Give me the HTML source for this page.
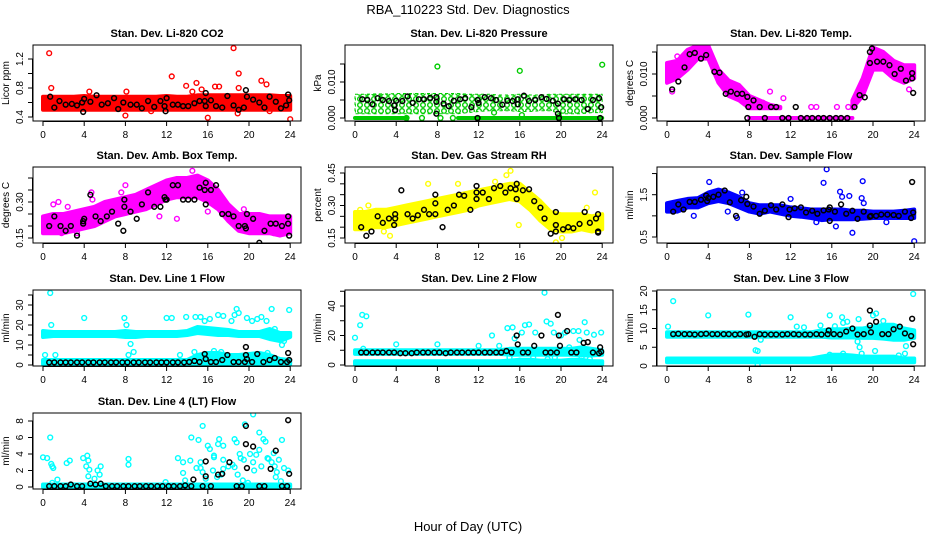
<!DOCTYPE html>
<html><head><meta charset="utf-8"><style>
html,body{margin:0;padding:0;background:#fff;}
svg{display:block;font-family:"Liberation Sans",sans-serif;}
</style></head><body>
<svg id="chart" width="936" height="540" viewBox="0 0 936 540">
<defs>
<pattern id="greenRings" width="7" height="6" patternUnits="userSpaceOnUse">
<rect width="7" height="6" fill="#fff"/>
<circle cx="3" cy="3" r="2.3" fill="none" stroke="#00cc00" stroke-width="1.4"/>
</pattern>
</defs>
<rect width="936" height="540" fill="#fff"/>
<text x="468" y="14" text-anchor="middle" font-size="13">RBA_110223  Std. Dev. Diagnostics</text>
<text x="468" y="531" text-anchor="middle" font-size="13">Hour of Day (UTC)</text>
</svg>
<script>
const bandHours=[0,1,2,3,4,5,6,7,8,9,10,11,12,13,14,15,16,17,18,19,20,21,22,23,24];
const xTicks=[0,4,8,12,16,20,24];
// CO2
const co2Lo=[0.5,0.5,0.5,0.5,0.5,0.5,0.5,0.5,0.5,0.5,0.5,0.5,0.5,0.5,0.5,0.5,0.5,0.5,0.5,0.5,0.5,0.5,0.5,0.5,0.5];
const co2Hi=[0.68,0.68,0.68,0.68,0.69,0.68,0.68,0.68,0.68,0.68,0.68,0.68,0.69,0.68,0.68,0.7,0.7,0.7,0.7,0.7,0.7,0.7,0.7,0.69,0.69];
const co2X=[0.6,0.8,8,12.5,13.9,14.9,16,16.7,17.1,18.5,19,19,21.2,21.7,24,4.5,8.1,18.9,15.4,14.5,22,10.5];
const co2Y=[1.28,0.8,0.42,0.96,0.83,0.87,0.39,0.82,0.82,1.35,1.0,0.8,0.9,0.85,0.37,0.75,0.75,0.45,0.78,0.75,0.48,0.48];
const co2BX=[0.7,1.1,1.6,2.2,2.8,3.3,3.8,3.9,4,4.6,5.2,5.7,6.3,6.9,7.3,7.8,8.5,9.1,9.6,10.2,10.8,11.4,11.8,11.9,12,12.6,13.1,13.6,14.1,14.7,15.2,15.7,15.8,15.8,16.3,16.8,17.4,17.9,18.5,19,19.5,19.7,19.8,20.4,21,21.5,22,22.6,23.1,23.6,23.8,23.9];
const co2BY=[0.68,0.53,0.62,0.57,0.58,0.56,0.6,0.47,0.65,0.61,0.7,0.57,0.59,0.66,0.51,0.6,0.57,0.57,0.52,0.62,0.54,0.62,0.55,0.48,0.66,0.57,0.57,0.55,0.55,0.59,0.62,0.62,0.73,0.55,0.63,0.55,0.53,0.69,0.56,0.5,0.53,0.77,0.68,0.64,0.6,0.53,0.68,0.61,0.52,0.56,0.71,0.63];
// Pressure
const prLo=[0.0012,0.0012,0.0012,0.0012,0.0012,0.0012,0.0012,0.0012,0.0012,0.0012,0.0012,0.0015,0.0018,0.002,0.002,0.002,0.0018,0.0018,0.002,0.002,0.0012,0.0012,0.0012,0.0015,0.0015];
const prHi=[0.0066,0.0066,0.0067,0.0067,0.0068,0.0068,0.0068,0.0068,0.0068,0.0068,0.0068,0.0066,0.0066,0.0066,0.0064,0.0064,0.0066,0.0064,0.0064,0.0066,0.0066,0.0066,0.0066,0.0066,0.0066];
const prZLo=[0,0,0,0,0,0,null,null,null,null,0,0,0,0,0,0,0,0,0,0,0,0,0,0,0];
const prZHi=[0,0,0,0,0,0,null,null,null,null,0,0,0,0,0,0,0,0,0,0,0,0,0,0,0];
const prX=[8,16,24,8.3,9.5,5,6.5,13.5,16.2,19.8];
const prY=[0.0143,0.0131,0.0148,0,0,0,0,0.0015,0.0008,0.0005];
const prBX=[0.7,1.2,1.7,2.2,2.7,3.3,3.8,3.9,4,4.6,5.1,5.6,6.2,6.7,7.3,7.9,7.9,7.9,8.6,9.1,9.6,10.2,10.7,11.3,11.9,11.9,12,12.6,13.2,13.7,14.3,14.8,15.3,15.8,15.8,16.4,16.9,17.5,18.1,18.6,19.2,19.7,19.7,19.8,20.3,20.8,21.4,22,22.6,23.1,23.7,23.9,23.8];
const prBY=[0.0052,0.005,0.0038,0.0055,0.005,0.0047,0.0035,0.0022,0.0048,0.0047,0.006,0.0042,0.0052,0.0052,0.0056,0.0058,0.0045,0.0012,0.004,0.0033,0.0048,0.0052,0.0055,0.003,0.005,0,0.0042,0.0058,0.0055,0.005,0.0037,0.0048,0.0047,0.0052,0.0038,0.0062,0.0047,0.005,0.0058,0.0053,0.0048,0.004,0.0012,0,0.0052,0.005,0.0052,0.005,0.0025,0.005,0.0055,0.003,0];
// Li-820 temp
const ltLo=[0.008,0.009,0.011,0.0135,0.0135,0.008,0.005,0.004,0.0022,0.0022,0.0022,0.0022,null,null,null,null,null,null,0.0022,0.005,0.011,0.011,0.009,0.008,0.009];
const ltHi=[0.0125,0.013,0.0155,0.0165,0.0165,0.011,0.0085,0.0075,0.005,0.004,0.003,0.0025,null,null,null,null,null,null,0.004,0.009,0.016,0.015,0.013,0.012,0.012];
const ltZLo=[null,null,null,null,null,null,null,null,0,0,0,0,0,0,0,0,0,0,0,null,null,null,null,null,null];
const ltZHi=[null,null,null,null,null,null,null,null,0,0,0,0,0,0,0,0,0,0,0,null,null,null,null,null,null];
const ltX=[0.5,1,10,11.3,14,14.5,16.5,23.5,17.6,9.3];
const ltY=[0.006,0.014,0.006,0.0045,0.0025,0.0025,0.0025,0.0065,0.0025,0.0035];
const ltBX=[0.5,1.1,1.7,2.2,2.7,3.3,3.8,4.6,5.1,5.7,6.2,6.8,7.3,7.8,7.9,7.8,8.4,9,9.5,10.1,10.6,11.2,11.8,12.5,13,13.6,14.1,14.7,15.2,15.8,16.4,16.9,17.5,18.2,18.7,19.2,19.7,19.7,19.9,20.4,21,21.6,22.1,22.7,23.2,23.8,23.8,23.9];
const ltBY=[0.0065,0.0083,0.0115,0.0145,0.0148,0.0135,0.0143,0.0105,0.0103,0.0055,0.006,0.0055,0.0055,0.0048,0.0025,0,0.004,0.0025,0,0.0025,0.0025,0,0,0.0025,0,0,0,0,0,0,0,0,0,0.0025,0.0052,0.0047,0.0125,0.015,0.0158,0.0128,0.0128,0.012,0.01,0.0112,0.0085,0.009,0.0102,0.0057];
// Amb box temp
const abLo=[0.17,0.17,0.17,0.18,0.19,0.2,0.22,0.24,0.25,0.26,0.27,0.29,0.31,0.32,0.32,0.32,0.3,0.27,0.22,0.18,0.17,0.17,0.17,0.16,0.17];
const abHi=[0.24,0.25,0.25,0.26,0.27,0.28,0.3,0.31,0.32,0.33,0.35,0.37,0.39,0.4,0.4,0.41,0.39,0.35,0.29,0.25,0.25,0.25,0.24,0.24,0.24];
const abX=[1,1.5,2.4,1.8,3.3,4.7,4.4,7.6,8,11.3,13,14.5,16,22.4,19.5,4.8];
const abY=[0.29,0.3,0.28,0.17,0.17,0.34,0.23,0.34,0.37,0.24,0.23,0.43,0.26,0.17,0.27,0.31];
const abBX=[0.6,1.1,1.7,2.2,2.7,3.3,3.9,3.9,4,4.6,5.1,5.6,6.2,6.7,7.3,7.8,7.9,7.9,8.5,9.1,9.6,10.2,10.8,11.4,11.8,11.9,12,12.6,13.1,13.6,14.1,14.7,15.2,15.7,15.8,15.8,16.3,16.8,17.4,18,18.5,19,19.6,19.7,19.8,20.4,21,21.5,22.1,22.6,23.2,23.8,23.8,23.9];
const abBY=[0.2,0.24,0.2,0.18,0.2,0.16,0.21,0.22,0.23,0.33,0.24,0.22,0.24,0.26,0.21,0.18,0.28,0.31,0.26,0.23,0.29,0.34,0.28,0.28,0.32,0.31,0.31,0.37,0.37,0.31,0.31,0.31,0.36,0.35,0.38,0.29,0.35,0.37,0.25,0.25,0.24,0.2,0.2,0.19,0.25,0.23,0.13,0.18,0.21,0.21,0.2,0.21,0.24,0.16];
// RH
const rhLo=[0.19,0.19,0.2,0.2,0.21,0.22,0.23,0.24,0.25,0.26,0.27,0.28,0.3,0.31,0.32,0.33,0.32,0.28,0.23,0.19,0.18,0.18,0.19,0.18,0.19];
const rhHi=[0.27,0.27,0.28,0.28,0.29,0.3,0.31,0.32,0.33,0.34,0.35,0.36,0.37,0.38,0.39,0.4,0.4,0.36,0.32,0.27,0.26,0.26,0.26,0.25,0.26];
const rhX=[0.5,1.3,3.4,7.1,10,13.6,15.1,14.7,15.9,19.5,20.1,23.3,22.5,0.2,2.8];
const rhY=[0.28,0.3,0.16,0.4,0.4,0.41,0.46,0.44,0.21,0.13,0.15,0.36,0.29,0.22,0.18];
const rhBX=[0.6,1.1,1.6,2.2,2.7,3.3,3.8,3.9,3.9,4.5,5.1,5.6,6.1,6.7,7.2,7.8,7.8,7.8,8.5,9,9.6,10.1,10.6,11.2,11.8,11.8,11.8,12.4,13,13.5,14.1,14.6,15.1,15.6,15.7,15.7,16.3,16.9,17.4,18,18.4,19,19.5,19.5,19.5,20.2,20.7,21.2,21.8,22.3,22.8,23.4,23.6,23.6,23.6];
const rhBY=[0.2,0.16,0.18,0.25,0.22,0.24,0.21,0.24,0.26,0.37,0.26,0.24,0.255,0.28,0.26,0.35,0.31,0.26,0.2,0.28,0.3,0.35,0.345,0.28,0.39,0.36,0.33,0.36,0.33,0.38,0.39,0.36,0.38,0.375,0.4,0.33,0.37,0.375,0.32,0.29,0.24,0.17,0.27,0.21,0.18,0.19,0.2,0.195,0.215,0.27,0.22,0.24,0.26,0.18,0.175];
// Sample flow
const sfLo=[1.1,1.1,1.2,1.2,1.3,1.35,1.3,1.2,1.1,1.05,1.1,1.05,1.0,0.98,0.95,0.9,0.92,0.92,0.92,0.93,0.95,0.95,0.95,0.95,0.95];
const sfHi=[1.3,1.35,1.4,1.42,1.55,1.62,1.55,1.45,1.3,1.25,1.25,1.25,1.2,1.18,1.15,1.15,1.15,1.15,1.12,1.12,1.1,1.1,1.1,1.12,1.15];
const sfX=[2.6,4.1,6.8,15.2,15.5,16.4,16.8,17,17.7,18,18.9,19,19.1,24,21.3,14.5,12,5.9,7.3];
const sfY=[1.0,1.8,0.95,1.78,2.1,0.75,1.57,1.45,1.47,0.6,1.42,1.82,1.3,0.4,0.85,0.85,1.4,1.1,1.55];
const sfBX=[0.6,1.1,1.6,2.2,2.7,3.3,3.8,3.9,4,4.5,5,5.6,6.1,6.7,7.2,7.7,7.8,8.4,9,9.5,10.1,10.6,11.2,11.8,11.9,12.4,13,13.5,14.1,14.6,15.2,15.7,15.8,15.8,16.3,16.9,17.4,18,18.5,19.1,19.7,19.8,20.3,20.8,21.4,22,22.5,23.1,23.7,23.8,23.9];
const sfBY=[1.1,1.27,1.15,1.33,1.33,1.38,1.48,1.35,1.42,1.45,1.5,1.6,1.32,1.0,1.37,1.45,1.28,1.22,1.05,1.12,1.25,1.15,1.27,0.97,1.15,1.18,1.2,1.08,1.12,1.05,1.13,1.15,0.88,1.2,1.1,1.27,1.05,1.12,0.93,1.1,0.98,1.0,1.0,1.03,1.03,1.02,1.0,1.1,0.95,1.8,1.08];
// Line 1
const l1Lo=[14,14.5,14.5,14.5,14.5,14.5,14.5,14.5,14,14,14.5,14.5,14.5,14.5,15,16,15.5,15,15,14.5,14.5,14.5,13,12,14];
const l1Hi=[17,16.5,16.5,16.5,16.5,16.5,16.5,16.5,17,16.5,16.5,16.5,16.5,16.5,17,19,18.5,18,17.5,16.5,16.5,16.5,18,16,16];
const l1BLo=[0.5,0.5,0.5,0.5,0.5,0.5,0.5,0.5,0.5,0.5,0.5,0.5,0.5,0.5,0.5,0.5,0.5,0.5,0.5,0.5,0.5,0.5,0.5,0.5,0.5];
const l1BHi=[2.5,2.5,2.5,2.5,2.5,2.5,2.5,2.5,2.5,2.5,2.5,2.5,2.5,2.5,2.5,5,6,6,5,5,5.5,6,5,3,2.5];
const l1X=[0.7,0.8,0.2,1.2,4,7.9,8.1,8.5,8.8,8.3,12,12.5,13.3,13.9,14.8,15.3,15.7,16.2,17,17.5,18.3,18.6,18.8,19,19.8,20.3,20.8,21.2,21.7,22.2,23.2,23.4,23.9,22.5,16.6,17.3,21.8,14.7];
const l1Y=[36,20,5,5,23.5,23.5,20,10.5,6.5,5,23.5,23.5,5,24,24,24,22,23,25,24.5,22,25,28,26,23.5,22,23,24,22,28,10,12,27.5,18,7,6.5,6,6.5];
const l1BX=[0.6,1.1,1.7,2.2,2.7,3.3,3.8,4.4,4.9,5.5,6,6.6,7.1,7.7,8.2,8.8,9.3,9.9,10.4,11,11.5,12,12.6,13.1,13.7,14.2,14.7,15.2,15.7,15.8,16.3,16.8,17.4,17.9,18.5,19,19.6,19.7,19.7,19.8,20.3,20.8,21.4,22,22.5,23.1,23.7,23.8,23.9];
const l1BY=[1.3,1.3,1.3,1.3,1.3,1.3,1.3,1.3,1.3,1.3,1.3,1.3,1.3,1.3,1.3,1.3,1.3,1.3,1.3,1.3,1.3,1.3,1.3,1.3,1.3,1.5,2,1.5,5.5,3,1.5,1.5,2.5,5,1.5,1.5,1.5,9,5,3,1.5,5.5,1.5,2.5,3.5,1.5,1.5,6,2.5];
// Line 2
const l2Lo=[7.5,7.5,7.5,7.5,7.5,7.5,7.5,7.5,7.5,7.5,7.5,7.5,7.5,7.5,7.5,7,7,7,7,7,7,7,6.5,6.5,7];
const l2Hi=[10,10,10,10,10,10,10,10,10,10,10,10,10,10,10,11,11,11,11,11,11,11,12,11,10];
const l2BLo=[0.5,0.5,0.5,0.5,0.5,0.5,0.5,0.5,0.5,0.5,0.5,0.5,0.5,0.5,0.5,0.5,0.5,0.5,0.5,0.5,0.5,0.5,0.5,0.5,0.5];
const l2BHi=[2.5,2.5,2.5,2.5,2.5,2.5,2.5,2.5,2.5,2.5,2.5,2.5,2.5,2.5,2.5,3,3.5,3.5,3,3,3,3.5,3.5,2.5,2.5];
const l2X=[0,0.5,0.7,1.1,0.8,4,8,12,13.3,14,14.8,15.3,15.5,16.2,16.5,16.9,17.5,18.4,18.6,19,19.3,20,20.4,21.2,21.7,22.3,22.5,23.2,23.9,15,16,17.3,18.7,19.4,20.8,21.8,22,22.8];
const l2Y=[18.5,27,34,33,11,14,14,13,20,13,25,25.5,18,22,27,27.5,22,49,29.5,28,22,20,22,23,23,29,22,20.5,22,5,3,5,4,5,12,17,5,4];
const l2BX=[0.6,1.1,1.7,2.2,2.7,3.3,3.8,4.4,4.9,5.5,6,6.6,7.1,7.7,8.2,8.8,9.3,9.9,10.4,11,11.5,12,12.6,13.1,13.7,14.2,14.7,15.2,15.7,15.8,16.3,16.8,17.4,18.1,18.5,19,19.6,19.7,19.8,19.9,20.6,21,21.5,22.2,22.6,23.1,23.7,23.8,23.9];
const l2BY=[8.5,8.5,8.5,8.5,8.5,8.5,8.5,8,8,8,8.5,8.5,8.5,8.5,8.5,8,8.5,8.5,8.5,8.5,8.5,8.5,8.5,8.5,8.5,8.5,9.5,8.5,20,14,8.5,8.5,13,20,8.5,8.5,8.5,34,20,13,23,8.5,8.5,15,15.5,8.5,8,12,9];
// Line 3
const l3Lo=[7.8,7.8,7.8,7.8,7.8,7.8,7.8,7.8,7.8,7.8,7.8,7.8,7.8,7.8,7.8,7.8,7.6,7.6,7.6,7.5,7.5,7.3,7,7,7.5];
const l3Hi=[9,9,9,9,9,9,9,9,9,9,9,9,9,9,9,9.5,9.8,9.8,10,10,10.5,11,11,10,9.5];
const l3BLo=[1,1,1,1,1,1,1,1,1,1,1,1,1,1,1,1,1,1,1,1,1,1,1,1,1];
const l3BHi=[2,2,2,2,2,2,2,2,2,2,2,2,2,2,2,2.5,3,3,2.8,2.5,2.5,2.5,2.5,2,2];
const l3X=[0.1,0.6,4,7.9,8.6,8.8,8.8,9.1,12,12.6,13.3,14.9,15.8,16.3,17,17.1,17.5,18.6,18.5,18.7,18.9,20,20.3,20.2,21,22.5,23.1,23.2,23.9,17.1,16.1,15.8];
const l3Y=[10.5,17.3,13.5,13.7,4.2,4,0.3,7,13,10.5,10.3,10.8,13.5,10.6,13,11.5,11.8,12.5,6.5,5,3.3,13.5,14,4,12,2.8,3.3,5.3,19.2,3.3,2.5,3];
const l3BX=[0.6,1.1,1.7,2.2,2.7,3.3,3.8,4.4,4.9,5.5,6,6.6,7.1,7.7,7.9,8.5,9,9.5,10.1,10.6,11.2,11.7,12.3,12.8,13.4,13.9,14.5,15,15.6,15.7,16.2,16.8,17.4,18,18.5,19.1,19.7,19.7,19.8,20.3,20.9,21.5,22,22.6,23.1,23.7,23.8,23.9];
const l3BY=[8.5,8.6,8.5,8.5,8.4,8.5,8.6,8.5,8.5,8.5,8.5,8.4,8.5,8.4,8.5,7.8,8.5,8.4,8.4,8.4,8.4,8.5,8.5,8.4,8.4,8.4,8.5,8.4,8.5,9.5,8.5,8.4,9.2,10,8.4,8.5,14.8,10.8,9,11.8,8.5,8.5,9.8,10.5,8.7,8,12.6,5.8];
// Line 4
const l4Lo=[0,0,0,0,0,0,0,0,0,0,0,0,0,0,0,0,0,0,0,0,0,0,0,0,0];
const l4Hi=[0.3,0.3,0.3,0.3,0.3,0.3,0.3,0.3,0.3,0.3,0.3,0.3,0.3,0.3,0.3,0.3,0.3,0.3,0.3,0.3,0.3,0.3,0.3,0.3,0.3];
const l4X=[0,0.4,0.7,0.8,0.9,1,1.4,0.9,2.3,2.6,3.9,4.3,4.4,4.2,4.5,4.4,5.3,5.6,5.5,5,8.3,8.3,11.9,13.1,13.6,13.6,14.3,14.4,15.1,15.3,15.5,15.3,15.5,16,16.2,16.6,17,17.1,17.5,17.5,18,18.4,18.6,18.8,19.1,19.2,19.5,19.6,20.4,20.4,20.7,21,21.4,21.6,21.8,22.2,22.4,22.9,23.2,23.4,23.8,16.5,17.3,18.9,19.4,20.5,21.2,21.9,22.7,15.8,16.9,19.9,22.6,13.8,14.9,16.6,17.5,18.6,20.1,21,22.5,23.1];
const l4Y=[3.6,3.5,6,2.8,2.5,2.3,0.9,0.5,2.9,3.2,3.5,3.8,3.2,2.5,2.1,1.3,2,2.5,1.5,1,3.4,2.7,0.6,3.5,3,1.7,3.2,6,5.7,3,7.4,2.3,1.8,5,4.6,3.8,5.2,5.8,5,3.3,2.5,2.7,5.8,5.4,4,3.5,3.3,7.6,8.8,3,3.9,6.6,5.8,5.5,3.5,3,4.1,3.3,5.7,2.3,2,2,1.5,1.5,0.8,2,2.5,3.4,1.8,1,1.2,0.5,1.2,0.8,2.3,3.6,2.2,2.4,4,4.5,2.5,0.7];
const l4BX=[0.6,1.1,1.7,2.2,2.7,3.3,3.8,4.6,5.1,5.6,6.1,6.7,7.2,7.8,8.3,8.9,9.4,10,10.5,11.1,11.6,12.2,12.7,13.3,13.8,14.4,14.6,15.5,15.8,15.8,16.3,17,17.4,18.1,18.8,19.3,19.7,19.7,19.8,20.4,21,21.5,22.1,22.6,23.2,23.8,23.9,23.7];
const l4BY=[0.1,0.1,0.1,0.1,0.3,0.1,0.1,0.4,0.3,0.4,0.1,0.1,0.1,0.1,0.1,0.1,0.1,0.1,0.1,0.1,0.1,0.1,0.1,0.1,0.2,0.1,0.9,0.1,3.1,1.3,0.1,1.5,1.6,3,0.1,0.1,7.4,5.2,2.3,4.9,0.1,0.1,2.2,4.4,0.1,8.1,1.6,0.1];

const NS='http://www.w3.org/2000/svg';
const svg=document.getElementById('chart');
function mk(tag,attrs,parent){const e=document.createElementNS(NS,tag);for(const k in attrs)e.setAttribute(k,attrs[k]);(parent||svg).appendChild(e);return e;}

const W=268,H=76;
const panels=[
 {id:'co2',title:'Stan. Dev. Li-820 CO2',ylab:'Licor ppm',col:'#ff0000',L:33,T:45,ref:[0.4,117,1.2,59],ticks:[0.4,0.6,0.8,1.0,1.2],labs:[0.4,0.8,1.2],fmt:1,bands:[[co2Lo,co2Hi]],px:co2X,py:co2Y,bx:co2BX,by:co2BY},
 {id:'pressure',title:'Stan. Dev. Li-820 Pressure',ylab:'kPa',col:'#00cc00',fill:'url(#greenRings)',L:345,T:45,ref:[0,118,0.01,82],ticks:[0,0.005,0.01,0.015],labs:[0,0.01],fmt:3,bands:[[prLo,prHi],[prZLo,prZHi]],px:prX,py:prY,bx:prBX,by:prBY},
 {id:'li820-temp',title:'Stan. Dev. Li-820 Temp.',ylab:'degrees C',col:'#ff00ff',L:657,T:45,ref:[0,118,0.01,74],ticks:[0,0.005,0.01,0.015],labs:[0,0.01],fmt:3,bands:[[ltLo,ltHi],[ltZLo,ltZHi]],px:ltX,py:ltY,bx:ltBX,by:ltBY},
 {id:'amb-box-temp',title:'Stan. Dev. Amb. Box Temp.',ylab:'degrees C',col:'#ff00ff',L:33,T:167,ref:[0.15,238,0.30,202],ticks:[0.15,0.2,0.25,0.3,0.35,0.4],labs:[0.15,0.3],fmt:2,bands:[[abLo,abHi]],px:abX,py:abY,bx:abBX,by:abBY},
 {id:'gas-stream-rh',title:'Stan. Dev. Gas Stream RH',ylab:'percent',col:'#ffff00',L:345,T:167,ref:[0.15,238,0.45,173],ticks:[0.15,0.2,0.25,0.3,0.35,0.4,0.45],labs:[0.15,0.3,0.45],fmt:2,bands:[[rhLo,rhHi]],px:rhX,py:rhY,bx:rhBX,by:rhBY},
 {id:'sample-flow',title:'Stan. Dev. Sample Flow',ylab:'ml/min',col:'#0000ff',L:657,T:167,ref:[0.5,237,1.5,194.7],ticks:[0.5,1.0,1.5,2.0],labs:[0.5,1.5],fmt:1,bands:[[sfLo,sfHi]],px:sfX,py:sfY,bx:sfBX,by:sfBY},
 {id:'line1-flow',title:'Stan. Dev. Line 1 Flow',ylab:'ml/min',col:'#00ffff',L:33,T:290,ref:[0,365,30,305],ticks:[0,5,10,15,20,25,30,35],labs:[0,10,20,30],fmt:0,bands:[[l1Lo,l1Hi],[l1BLo,l1BHi]],px:l1X,py:l1Y,bx:l1BX,by:l1BY},
 {id:'line2-flow',title:'Stan. Dev. Line 2 Flow',ylab:'ml/min',col:'#00ffff',L:345,T:290,ref:[0,365,40,306],ticks:[0,10,20,30,40,50],labs:[0,20,40],fmt:0,bands:[[l2Lo,l2Hi],[l2BLo,l2BHi]],px:l2X,py:l2Y,bx:l2BX,by:l2BY},
 {id:'line3-flow',title:'Stan. Dev. Line 3 Flow',ylab:'ml/min',col:'#00ffff',L:657,T:290,ref:[0,366,20,291],ticks:[0,5,10,15,20],labs:[0,5,10,15,20],fmt:0,bands:[[l3Lo,l3Hi],[l3BLo,l3BHi]],px:l3X,py:l3Y,bx:l3BX,by:l3BY},
 {id:'line4-flow',title:'Stan. Dev. Line 4 (LT) Flow',ylab:'ml/min',col:'#00ffff',L:33,T:413,ref:[0,487,8,421],ticks:[0,2,4,6,8],labs:[0,2,4,6,8],fmt:0,bands:[[l4Lo,l4Hi]],px:l4X,py:l4Y,bx:l4BX,by:l4BY}
];

panels.forEach(p=>{
 const g=mk('g',{});
 
 
 const xs=h=>p.L+10+h*10.3;
 const k=(p.ref[3]-p.ref[1])/(p.ref[2]-p.ref[0]);
 const ys=v=>p.ref[1]+(v-p.ref[0])*k;
 const clip='clip-'+p.id;
 const cp=mk('clipPath',{id:clip},g);mk('rect',{x:p.L,y:p.T,width:W,height:H},cp);
 const plot=mk('g',{'clip-path':'url(#'+clip+')'},g);
 p.bands.forEach((b,bi)=>{
  const lo=b[0],hi=b[1];let seg=[];
  const flush=()=>{if(seg.length){let d='';seg.forEach((i,j)=>{d+=(j?'L':'M')+xs(bandHours[i]).toFixed(1)+','+ys(hi[i]).toFixed(1);});
   for(let j=seg.length-1;j>=0;j--){const i=seg[j];d+='L'+xs(bandHours[i]).toFixed(1)+','+ys(lo[i]).toFixed(1);}
   const useFill=(bi===0&&p.fill)?p.fill:p.col;
   const pa=mk('path',{d:d+'Z',fill:useFill,stroke:useFill===p.col?p.col:'none','stroke-width':4,'stroke-linejoin':'round'},plot);
   if(useFill!==p.col){pa.setAttribute('stroke',p.col);pa.setAttribute('stroke-width',1);pa.setAttribute('stroke-dasharray','3 3');}
   
   }seg=[];};
  for(let i=0;i<bandHours.length;i++){if(lo[i]===null||hi[i]===null)flush();else seg.push(i);}flush();
 });
 p.px.forEach((h,i)=>{const c=mk('circle',{cx:xs(h),cy:ys(p.py[i]),r:2.4,fill:'none',stroke:p.col,'stroke-width':1.4},plot);
  
  });
 p.bx.forEach((h,i)=>{const c=mk('circle',{cx:xs(h),cy:ys(p.by[i]),r:2.4,fill:'none',stroke:'#000','stroke-width':1.5},plot);
  
  });
 const box=mk('rect',{x:p.L,y:p.T,width:W,height:H,fill:'none',stroke:'#000','stroke-width':1},g);
 
 
 const xb=p.T+H;
 mk('line',{x1:xs(0),x2:xs(24),y1:xb+0.5,y2:xb+0.5,stroke:'#000'},g);
 xTicks.forEach(t=>{mk('line',{x1:xs(t),x2:xs(t),y1:xb,y2:xb+5,stroke:'#000'},g);
  const tx=mk('text',{x:xs(t),y:xb+17,'text-anchor':'middle','font-size':10},g);tx.textContent=t;
  
  });
 const yl=p.L;
 mk('line',{x1:yl-0.5,x2:yl-0.5,y1:ys(p.ticks[0]),y2:ys(p.ticks[p.ticks.length-1]),stroke:'#000'},g);
 p.ticks.forEach(t=>mk('line',{x1:yl-5,x2:yl,y1:ys(t),y2:ys(t),stroke:'#000'},g));
 p.labs.forEach(t=>{const yy=ys(t);const tx=mk('text',{x:yl-10,y:yy,'text-anchor':'middle','font-size':10,transform:'rotate(-90 '+(yl-10)+' '+yy+')'},g);
  tx.textContent=t.toFixed(p.fmt);
  
  });
 const cy=p.T+H/2;
 const yt=mk('text',{x:p.L-24,y:cy,'text-anchor':'middle','font-size':10,transform:'rotate(-90 '+(p.L-24)+' '+cy+')'},g);
 yt.textContent=p.ylab;
 
 
 const tt=mk('text',{x:p.L+W/2,y:p.T-8,'text-anchor':'middle','font-size':11,'font-weight':'bold'},g);
 tt.textContent=p.title;
 
 
});
</script>
</body></html>
